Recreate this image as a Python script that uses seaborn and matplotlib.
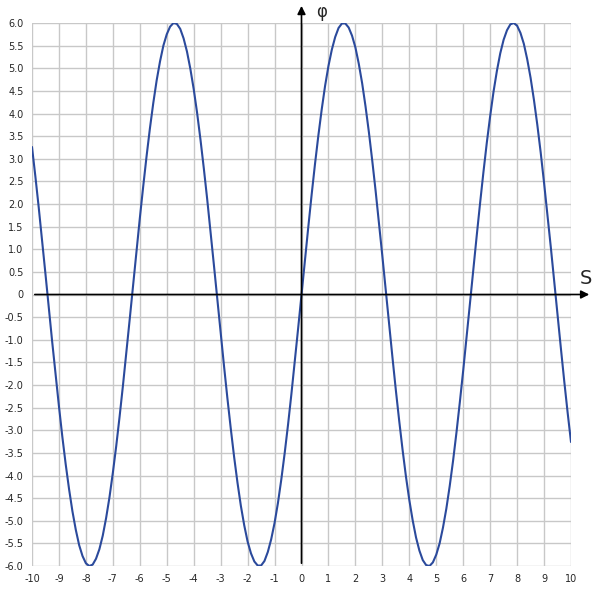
import numpy as np
import pandas as pd
import matplotlib
matplotlib.use("Agg")
import matplotlib.pyplot as plt
import seaborn as sns

# curve values, x step 0.125 from 0 to 10 (curve is odd about the origin)
x_pos = [i * 0.125 for i in range(81)]
y_pos = [0.0, 0.75, 1.48, 2.20, 2.88, 3.51, 4.09, 4.61, 5.05, 5.41, 5.69, 5.89, 5.99, 5.99,
         5.90, 5.72, 5.46, 5.10, 4.67, 4.16, 3.59, 2.96, 2.29, 1.58, 0.85, 0.10, -0.65,
         -1.39, -2.11, -2.79, -3.43, -4.02, -4.54, -4.99, -5.37, -5.66, -5.87, -5.98, -6.0,
         -5.92, -5.75, -5.50, -5.15, -4.73, -4.23, -3.67, -3.05, -2.38, -1.68, -0.95, -0.20,
         0.55, 1.29, 2.01, 2.70, 3.35, 3.94, 4.48, 4.94, 5.33, 5.63, 5.84, 5.97, 6.0,
         5.94, 5.78, 5.54, 5.20, 4.79, 4.30, 3.75, 3.14, 2.47, 1.77, 1.05, 0.30, -0.45,
         -1.19, -1.92, -2.61, -3.26]

x_vals = [-v for v in x_pos[:0:-1]] + x_pos
y_vals = [-v for v in y_pos[:0:-1]] + y_pos

x_ticks = list(range(-10, 11))
y_ticks = [i * 0.5 for i in range(-12, 13)]
y_tick_labels = ["0" if t == 0 else "%.1f" % t for t in y_ticks]

df = pd.DataFrame({"x": x_vals, "y": y_vals})

sns.set_style("white")
fig = plt.figure(figsize=(5.99, 5.96), dpi=100)
ax = fig.add_axes([32 / 599, 30 / 596, 539 / 599, 543 / 596])

sns.lineplot(data=df, x="x", y="y", ax=ax, color="#2B4A9C", linewidth=1.5, zorder=3)

ax.set_xlim(-10, 10)
ax.set_ylim(-6, 6)
ax.set_xticks(x_ticks)
ax.set_xticklabels([str(t) for t in x_ticks], fontsize=7)
ax.set_yticks(y_ticks)
ax.set_yticklabels(y_tick_labels, fontsize=7)
ax.tick_params(length=0, pad=6)
ax.grid(True, color="#c8c8c8", linewidth=1)
for s in ax.spines.values():
    s.set_visible(False)
ax.set_xlabel("")
ax.set_ylabel("")

# axes with arrows
ax.annotate("", xy=(10.78, 0), xytext=(-10, 0),
            arrowprops=dict(arrowstyle="-|>", color="black", lw=1.2, mutation_scale=12),
            annotation_clip=False, zorder=4)
ax.annotate("", xy=(0, 6.44), xytext=(0, -6),
            arrowprops=dict(arrowstyle="-|>", color="black", lw=1.2, mutation_scale=12),
            annotation_clip=False, zorder=4)

ax.text(0.75, 6.25, "φ", fontsize=12, ha="center", va="center", clip_on=False)
ax.text(10.55, 0.35, "S", fontsize=14, ha="center", va="center", clip_on=False)

fig.savefig("out.png", dpi=100)
